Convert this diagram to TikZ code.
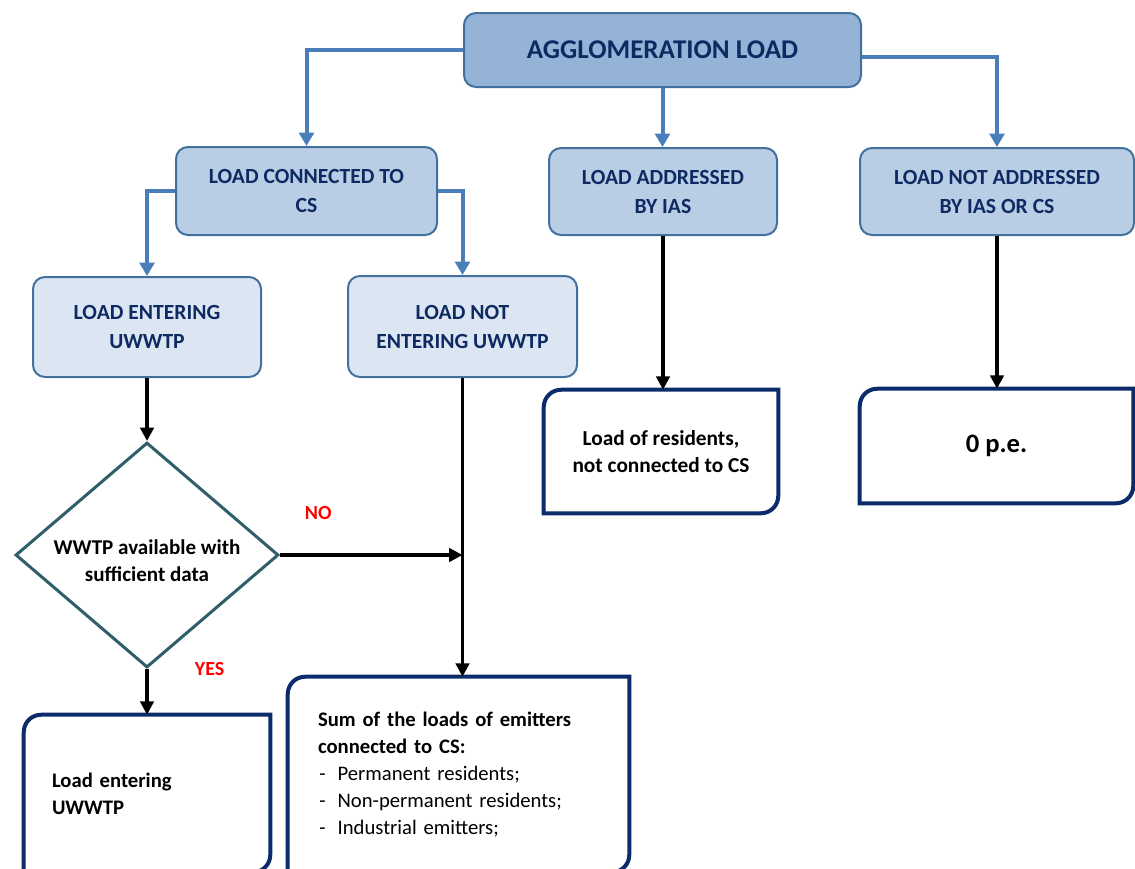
\documentclass[tikz,border=0pt]{standalone}
\usepackage{fontspec}
\setmainfont{Carlito}
\usetikzlibrary{shapes.geometric,arrows.meta}
\definecolor{topfill}{HTML}{95B3D7}
\definecolor{midfill}{HTML}{B9CDE5}
\definecolor{lowfill}{HTML}{DCE6F2}
\definecolor{boxline}{HTML}{41719C}
\definecolor{flowblue}{HTML}{4A7EBB}
\definecolor{navytext}{HTML}{0E2A63}
\definecolor{resnavy}{HTML}{0B2B6B}
\definecolor{diaedge}{HTML}{2F5F68}
\definecolor{lblred}{HTML}{FF0000}

\begin{document}
\begin{tikzpicture}[x=0.75pt, y=-0.75pt,
    lvl/.style={draw=boxline, line width=1.5pt, rounded corners=9pt, align=center, text=navytext,
      font=\bfseries\fontsize{16.2}{21.75}\selectfont},
    resbox/.style={inner sep=0pt, align=left, font=\bfseries\fontsize{15.5}{20.25}\selectfont},
    resline/.style={draw=resnavy, line width=3pt, rounded corners=13pt, line cap=rect},
    flow/.style={draw=flowblue, line width=3pt, -{Triangle[length=10pt,width=11pt]}},
    down/.style={draw=black, line width=2.5pt, -{Triangle[length=10pt,width=10pt]}},
    lbl/.style={text=lblred, font=\bfseries\fontsize{15}{18}\selectfont}]
    \useasboundingbox (0,0) rectangle (1135,868);

    \node[lvl, fill=topfill, minimum width=297.75pt, minimum height=55.5pt,
      font=\bfseries\fontsize{20.3}{24}\selectfont](agg) at (662.5,50) {AGGLOMERATION LOAD};
    \node[lvl, fill=midfill, minimum width=195.75pt, minimum height=66pt](cs) at (306.5,191) {LOAD CONNECTED TO\\CS};
    \node[lvl, fill=midfill, minimum width=171pt, minimum height=65.25pt](ias) at (663,191.5) {LOAD ADDRESSED\\BY IAS};
    \node[lvl, fill=midfill, minimum width=205.5pt, minimum height=65.25pt](notad) at (997,191.5) {LOAD NOT ADDRESSED\\BY IAS OR CS};
    \node[lvl, fill=lowfill, minimum width=171pt, minimum height=75pt](ent) at (147,327) {LOAD ENTERING\\UWWTP};
    \node[lvl, fill=lowfill, minimum width=171.75pt, minimum height=75.75pt](nent) at (462.5,326.5) {LOAD NOT\\ENTERING UWWTP};

    \node[diamond, draw=diaedge, line width=2.25pt, aspect=1.17, inner sep=0pt,
      minimum width=197.25pt, minimum height=168.75pt, align=center,
      font=\bfseries\fontsize{15.8}{20.25}\selectfont](dia) at (147,555) {\rule{0pt}{19pt}WWTP available with\\sufficient data};

    \node[resbox, align=center, minimum width=175.5pt, minimum height=92.25pt,
      font=\bfseries\fontsize{16}{20.25}\selectfont](rres) at (661,451.5) {Load of residents,\\not connected to CS};
    \node[resbox, minimum width=204.75pt, minimum height=85.5pt,
      font=\bfseries\fontsize{20}{22}\selectfont](rzero) at (996.5,446) {0 p.e.};
    \node[resbox, minimum width=184.5pt, minimum height=117.75pt, text width=142.5pt](rent) at (147,793.5) {Load entering\\UWWTP};
    \node[resbox, minimum width=255.75pt, minimum height=146.25pt, text width=210.75pt](rsum) at (458.5,774.5)
      {Sum of the loads of emitters\\connected to CS:\\
       \mdseries\hspace*{1pt}-\hspace{9pt}Permanent residents;\\
       \mdseries\hspace*{1pt}-\hspace{9pt}Non-permanent residents;\\
       \mdseries\hspace*{1pt}-\hspace{9pt}Industrial emitters;};
    \foreach \n in {rres,rzero,rent,rsum}
      \draw[resline] (\n.north east) -- (\n.north west) -- (\n.south west)
        (\n.south west) -- (\n.south east) -- (\n.north east);

    \draw[flow] (agg.west) -| (cs.north);
    \draw[flow] (agg.south) -- (agg.south |- ias.north);
    \draw[flow] ([yshift=-5pt]agg.east) -| (notad.north);
    \draw[flow] (cs.west) -| (ent.north);
    \draw[flow] (cs.east) -| (nent.north);

    \draw[down] (ent.south) -- (dia.north);
    \draw[down] (nent.south) -- (nent.south |- rsum.north);
    \draw[down] (dia.east) -- (dia.east -| nent.south) node[lbl, pos=0.21, yshift=31.5pt]{NO};
    \draw[down] (dia.south) -- (rent.north) node[lbl, pos=0, xshift=47pt]{YES};
    \draw[down] (ias.south) -- (ias.south |- rres.north);
    \draw[down] (notad.south) -- (notad.south |- rzero.north);
\end{tikzpicture}
\end{document}
